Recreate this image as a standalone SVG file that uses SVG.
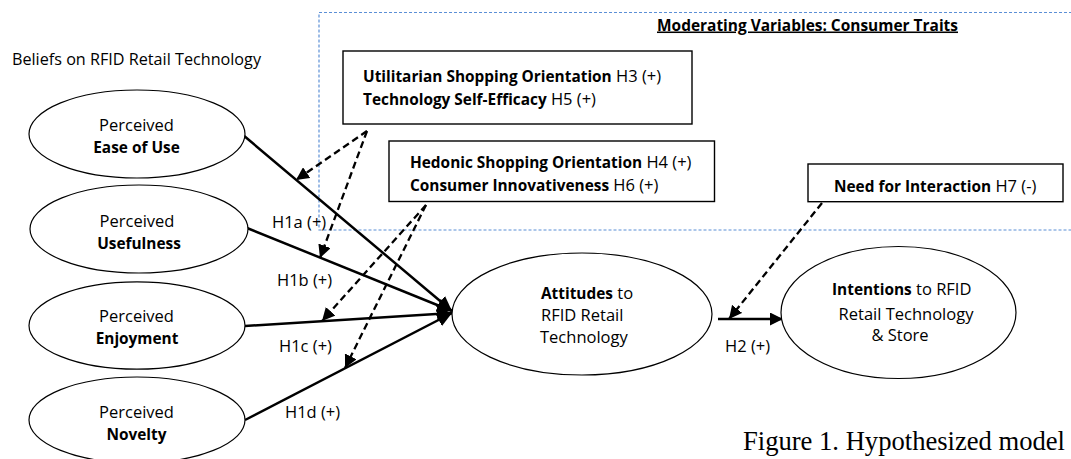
<svg xmlns="http://www.w3.org/2000/svg" width="1071" height="459" viewBox="0 0 1071 459">
<style>
text{font-family:"Open Sans","Noto Sans","Liberation Sans",sans-serif;font-size:16.5px;fill:#000}
.b{font-weight:bold;font-size:15.4px}
.c{text-anchor:middle}
.ell{fill:#fff;stroke:#000;stroke-width:1.2}
.box{fill:#fff;stroke:#000;stroke-width:1.4}
.sol{fill:none;stroke:#000;stroke-width:2.5}
.dsh{fill:none;stroke:#000;stroke-width:2.3;stroke-dasharray:7 4}
.frame{fill:none;stroke:#5B8FD6;stroke-width:1.2;stroke-dasharray:3 2}
.cap{font-family:"Liberation Serif","Times New Roman",serif;font-size:26.5px}
</style>
<defs>
<marker id="ah" markerUnits="userSpaceOnUse" markerWidth="16" markerHeight="14" refX="15" refY="7" orient="auto">
<path d="M0,0 L15,7 L0,14 z" fill="#000"/>
</marker>
<marker id="ahs" markerUnits="userSpaceOnUse" markerWidth="14" markerHeight="13" refX="13" refY="6.5" orient="auto">
<path d="M0,0 L13,6.5 L0,13 z" fill="#000"/>
</marker>
</defs>
<rect width="1071" height="459" fill="#fff"/>
<g id="moderating-frame">
<rect class="frame" x="319" y="12.5" width="800" height="217.5"/>
<text class="b" x="657" y="30.5" textLength="301" lengthAdjust="spacingAndGlyphs" text-decoration="underline">Moderating Variables: Consumer Traits</text>
</g>
<text id="beliefs-label" x="12" y="64.5" textLength="249" lengthAdjust="spacingAndGlyphs">Beliefs on RFID Retail Technology</text>
<g id="connectors">
<line class="sol" x1="243" y1="135" x2="452" y2="311" marker-end="url(#ah)"/>
<line class="sol" x1="247" y1="228" x2="452" y2="311" marker-end="url(#ah)"/>
<line class="sol" x1="245" y1="326" x2="452" y2="313" marker-end="url(#ah)"/>
<line class="sol" x1="245" y1="420" x2="452" y2="313" marker-end="url(#ah)"/>
<line class="sol" x1="718" y1="319" x2="783" y2="319" marker-end="url(#ahs)"/>
<line class="dsh" x1="367" y1="131" x2="296" y2="180" marker-end="url(#ahs)"/>
<line class="dsh" x1="367" y1="131" x2="320" y2="258" marker-end="url(#ahs)"/>
<line class="dsh" x1="426" y1="205" x2="322" y2="321" marker-end="url(#ahs)"/>
<line class="dsh" x1="426" y1="205" x2="345" y2="368" marker-end="url(#ahs)"/>
<line class="dsh" x1="822" y1="203" x2="729" y2="319" marker-end="url(#ahs)"/>
<text x="272" y="227.5">H1a (+)</text>
<text x="277" y="285.5">H1b (+)</text>
<text x="279" y="351.5">H1c (+)</text>
<text x="285" y="418">H1d (+)</text>
<text x="725" y="352">H2 (+)</text>
</g>
<g id="ease-of-use">
<ellipse class="ell" cx="137" cy="134" rx="108" ry="44"/>
<text class="c" x="136.5" y="130.5">Perceived</text>
<text class="c b" x="136.5" y="152.5">Ease of Use</text>
</g>
<g id="usefulness">
<ellipse class="ell" cx="139" cy="229" rx="109" ry="44"/>
<text class="c" x="137" y="226.5">Perceived</text>
<text class="c b" x="139" y="248.5">Usefulness</text>
</g>
<g id="enjoyment">
<ellipse class="ell" cx="137" cy="325.5" rx="108" ry="43.7"/>
<text class="c" x="136.5" y="322">Perceived</text>
<text class="c b" x="137" y="344">Enjoyment</text>
</g>
<g id="novelty">
<ellipse class="ell" cx="137" cy="420" rx="108" ry="43"/>
<text class="c" x="136.5" y="418">Perceived</text>
<text class="c b" x="136.5" y="440">Novelty</text>
</g>
<g id="attitudes">
<ellipse class="ell" cx="582" cy="314" rx="130" ry="61"/>
<text x="541" y="299"><tspan class="b">Attitudes</tspan> to</text>
<text x="541" y="321">RFID Retail</text>
<text x="540" y="342.5">Technology</text>
</g>
<g id="intentions">
<ellipse class="ell" cx="898.5" cy="312.5" rx="117.5" ry="66"/>
<text x="832" y="294.5"><tspan class="b">Intentions</tspan> to RFID</text>
<text class="c" x="906" y="320">Retail Technology</text>
<text class="c" x="900" y="341">&amp; Store</text>
</g>
<g id="utilitarian-box">
<rect class="box" x="343" y="51" width="349" height="73"/>
<text x="363" y="81.5"><tspan class="b">Utilitarian Shopping Orientation</tspan> H3 (+)</text>
<text x="363" y="104.5"><tspan class="b">Technology Self-Efficacy</tspan> H5 (+)</text>
</g>
<g id="hedonic-box">
<rect class="box" x="389" y="141" width="325.5" height="60.5"/>
<text x="410" y="168"><tspan class="b">Hedonic Shopping Orientation</tspan> H4 (+)</text>
<text x="410" y="191"><tspan class="b">Consumer Innovativeness</tspan> H6 (+)</text>
</g>
<g id="interaction-box">
<rect class="box" x="808" y="164" width="255" height="37.7"/>
<text x="834" y="191.5"><tspan class="b">Need for Interaction</tspan> H7 (-)</text>
</g>
<text id="caption" class="cap" x="743" y="450" textLength="322" lengthAdjust="spacingAndGlyphs">Figure 1. Hypothesized model</text>
</svg>
